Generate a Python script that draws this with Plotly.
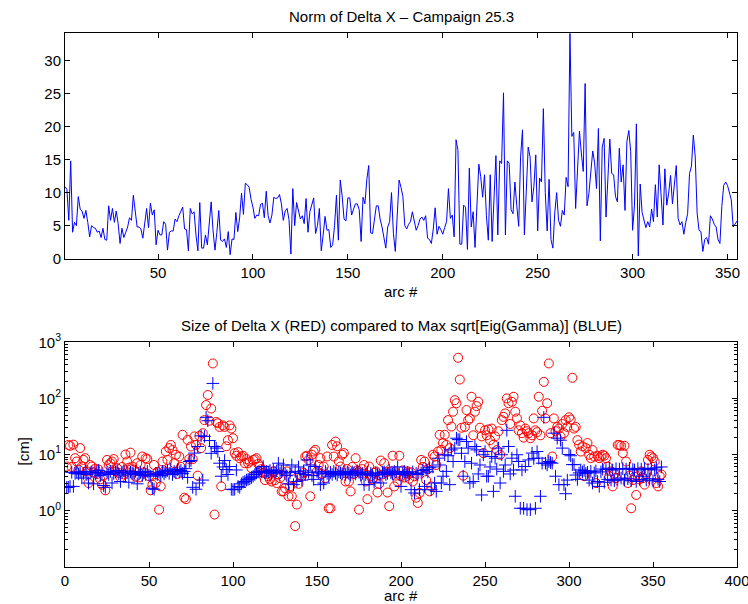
import numpy as np
import plotly.graph_objects as go

# Arc index 1..355
arc = list(range(1, 356))

# Norm of Delta X per arc
norm_dx = [
    10.9, 10.5, 5.8, 14.8, 4.0, 5.5, 5.0, 9.4, 7.5, 7.2,
    6.1, 7.3, 5.5, 3.3, 5.0, 4.7, 4.6, 4.0, 4.2, 3.2,
    4.6, 2.9, 2.8, 8.0, 5.8, 7.6, 5.5, 7.2, 5.3, 2.3,
    4.6, 3.2, 4.0, 4.8, 6.2, 5.8, 9.6, 7.2, 4.8, 4.8,
    4.5, 3.1, 5.0, 7.6, 4.7, 8.4, 6.6, 7.4, 2.1, 4.3,
    3.6, 3.6, 5.6, 5.2, 1.3, 4.0, 4.2, 4.2, 6.0, 5.6,
    6.5, 7.3, 7.8, 4.5, 4.4, 1.2, 7.6, 6.8, 7.1, 3.6,
    1.2, 8.5, 1.6, 1.6, 3.6, 2.1, 5.8, 8.6, 4.2, 1.3,
    4.0, 7.3, 2.8, 2.6, 3.0, 1.7, 4.1, 0.6, 3.0, 2.9,
    7.0, 4.1, 6.2, 9.9, 6.7, 11.4, 11.2, 10.8, 9.0, 7.8,
    6.1, 6.6, 6.5, 8.2, 8.4, 6.2, 10.2, 6.5, 5.4, 6.6,
    9.3, 9.1, 9.2, 9.7, 8.3, 5.8, 7.2, 7.6, 5.9, 0.7,
    10.6, 5.0, 8.5, 7.3, 6.0, 6.5, 5.3, 9.1, 4.0, 7.1,
    8.3, 9.2, 3.8, 5.0, 7.6, 1.2, 3.6, 6.4, 4.3, 4.4,
    1.7, 2.1, 5.0, 9.6, 2.8, 11.9, 9.5, 6.0, 5.7, 9.2,
    9.2, 6.6, 7.5, 8.3, 8.3, 7.4, 2.6, 9.3, 8.3, 12.0,
    14.1, 3.9, 3.8, 6.0, 8.0, 8.0, 6.0, 4.8, 3.2, 1.6,
    4.8, 5.6, 10.0, 3.8, 1.1, 7.0, 11.9, 10.8, 9.4, 5.0,
    4.5, 5.2, 5.6, 7.1, 5.6, 4.3, 5.0, 6.0, 6.3, 5.8,
    6.5, 3.1, 2.9, 2.3, 4.5, 7.7, 3.7, 4.9, 4.4, 3.7,
    4.7, 5.6, 10.6, 6.1, 6.6, 3.3, 18.0, 16.4, 2.2, 2.2,
    8.1, 7.8, 1.4, 13.7, 4.8, 7.1, 1.7, 8.0, 14.3, 12.4,
    9.3, 12.7, 6.5, 2.8, 12.7, 2.6, 9.0, 15.6, 3.6, 14.8,
    14.4, 25.1, 3.6, 14.8, 14.4, 7.4, 6.8, 11.6, 8.0, 4.9,
    15.4, 19.5, 3.6, 10.0, 16.9, 15.4, 8.6, 10.9, 15.7, 4.2,
    12.2, 11.6, 22.7, 10.0, 4.2, 12.0, 2.9, 1.6, 6.9, 10.0,
    5.8, 4.9, 7.3, 6.6, 12.3, 10.9, 34.1, 18.5, 19.1, 7.6,
    13.0, 19.3, 16.0, 13.2, 26.5, 8.0, 9.9, 13.0, 16.3, 14.5,
    10.6, 19.7, 2.7, 16.9, 18.2, 6.3, 12.0, 18.1, 12.9, 12.7,
    9.4, 8.6, 16.7, 11.6, 14.2, 7.3, 17.7, 19.4, 16.2, 4.3,
    8.1, 20.4, 0.4, 11.3, 7.0, 5.6, 4.7, 5.6, 4.8, 7.5,
    5.6, 11.2, 6.3, 14.2, 9.0, 5.1, 13.6, 8.1, 9.9, 12.6,
    8.3, 11.0, 14.1, 6.1, 5.1, 5.6, 3.7, 5.5, 6.8, 12.9,
    14.0, 18.7, 15.4, 6.9, 4.3, 4.1, 1.1, 2.9, 3.2, 2.2,
    6.5, 6.0, 5.2, 4.8, 2.9, 2.3, 7.9, 11.1, 11.6, 11.1,
    10.0, 8.9, 4.8, 5.2, 5.7,
]

# Size of Delta X [cm] (red circles)
size_dx = [
    6.1, 14.8, 14.3, 6.0, 15.0, 8.6, 7.5, 5.4, 13.0, 6.1,
    8.0, 8.6, 5.0, 3.1, 6.5, 6.1, 4.8, 5.6, 4.5, 5.4,
    3.6, 2.9, 4.2, 2.3, 8.0, 6.5, 7.0, 7.5, 8.3, 5.0,
    5.7, 4.7, 3.9, 6.0, 4.4, 10.0, 7.5, 5.8, 10.8, 6.1,
    5.4, 4.0, 7.0, 3.9, 6.5, 9.2, 4.8, 8.6, 8.3, 4.1,
    2.3, 2.9, 6.5, 3.1, 4.9, 1.04, 2.7, 7.5, 5.0, 11.3,
    8.0, 13.0, 14.8, 12.0, 7.0, 9.9, 4.5, 9.2, 6.0, 22.4,
    1.7, 1.6, 18.2, 8.3, 13.9, 8.3, 21.0, 14.8, 4.2, 21.5,
    13.0, 24.0, 41.0, 76.0, 115.0, 40.0, 66.0, 420.0, 0.85, 38.0,
    36.0, 31.0, 2.7, 33.0, 31.0, 14.0, 18.0, 33.0, 29.0, 19.5,
    10.6, 9.5, 11.0, 8.6, 9.2, 9.5, 7.0, 8.3, 7.0, 7.5,
    5.7, 8.0, 8.2, 8.6, 6.8, 6.1, 5.5, 4.7, 3.5, 4.5,
    4.1, 3.6, 3.3, 5.0, 3.5, 3.1, 4.4, 3.8, 2.2, 2.2,
    2.5, 5.0, 1.8, 2.7, 1.8, 3.6, 0.53, 1.28, 3.0, 4.2,
    4.1, 4.7, 9.2, 9.5, 8.0, 1.8, 9.9, 11.3, 12.1, 5.0,
    6.5, 8.6, 4.5, 6.1, 3.8, 9.2, 1.1, 1.1, 14.8, 9.2,
    17.0, 14.0, 7.5, 6.1, 9.9, 10.6, 3.3, 5.5, 3.3, 2.2,
    6.0, 4.5, 8.6, 5.2, 1.04, 4.7, 5.5, 6.5, 3.3, 1.6,
    6.1, 4.1, 3.6, 4.7, 5.0, 2.1, 3.0, 7.8, 4.4, 7.0,
    4.8, 2.1, 1.2, 5.0, 9.5, 2.7, 4.2, 3.3, 9.5, 4.1,
    5.2, 3.9, 4.6, 5.0, 3.7, 4.8, 3.3, 4.1, 1.7, 1.37,
    2.06, 8.0, 6.0, 7.5, 3.5, 5.5, 2.2, 2.7, 9.9, 9.2,
    6.5, 11.3, 22.4, 12.1, 16.0, 22.4, 14.8, 41.0, 13.0, 31.5,
    58.0, 93.0, 82.0, 530.0, 217.0, 30.0, 4.2, 31.0, 62.0, 41.0,
    44.0, 107.0, 22.0, 58.0, 73.0, 87.0, 30.0, 21.0, 10.6, 27.0,
    22.0, 28.0, 18.0, 29.0, 15.0, 21.0, 12.0, 26.0, 9.9, 41.0,
    47.0, 54.0, 100.0, 82.0, 35.0, 87.0, 107.0, 58.0, 44.0, 27.0,
    33.0, 24.0, 20.0, 29.0, 26.0, 24.0, 19.5, 22.0, 44.0, 27.0,
    25.0, 107.0, 22.0, 60.0, 197.0, 44.0, 82.0, 420.0, 24.0, 9.2,
    44.0, 26.0, 31.0, 29.0, 21.0, 35.0, 24.0, 41.0, 31.0, 46.0,
    42.0, 233.0, 29.0, 31.0, 18.0, 15.0, 11.3, 14.0, 4.1, 13.0,
    16.0, 9.9, 8.6, 12.0, 9.2, 3.1, 9.5, 8.6, 9.2, 9.9,
    9.5, 8.6, 6.1, 4.1, 5.0, 2.7, 4.5, 3.8, 14.8, 14.8,
    14.3, 10.6, 14.3, 7.5, 3.1, 4.2, 1.1, 3.5, 4.0, 1.9,
    4.1, 3.6, 5.0, 3.8, 2.9, 4.5, 8.0, 9.9, 9.2, 8.6,
    7.5, 3.1, 2.7, 4.1, 4.4,
]

# Max sqrt of Gamma eigenvalues [cm] (blue crosses)
max_sig = [
    2.6, 2.6, 2.7, 4.8, 2.7, 4.6, 4.9, 4.5, 4.8, 3.8,
    4.6, 5.0, 4.4, 3.1, 4.7, 4.9, 3.0, 4.5, 4.8, 5.2,
    4.2, 4.6, 2.8, 2.6, 4.8, 4.4, 5.0, 3.1, 4.6, 4.9,
    5.2, 4.5, 3.3, 4.8, 5.1, 4.3, 4.7, 3.2, 4.9, 4.6,
    4.4, 5.0, 3.0, 4.5, 4.8, 4.2, 4.7, 4.4, 5.0, 4.3,
    4.1, 2.5, 2.4, 4.6, 4.4, 4.8, 4.2, 5.0, 4.5, 4.9,
    5.2, 4.6, 5.5, 4.4, 5.0, 4.7, 5.4, 4.9, 5.2, 4.6,
    5.0, 5.6, 3.9, 7.5, 7.8, 2.6, 10.6, 2.4, 13.9, 3.1,
    21.5, 3.5, 21.0, 46.0, 40.0, 17.7, 10.5, 185.0, 13.9, 13.0,
    11.3, 7.0, 4.1, 6.0, 7.8, 5.4, 4.4, 6.1, 2.4, 2.36,
    2.4, 5.3, 2.7, 2.6, 3.0, 3.2, 3.3, 3.5, 3.6, 3.7,
    3.9, 4.1, 4.4, 4.7, 4.9, 4.8, 5.0, 6.1, 4.7, 5.0,
    4.9, 5.2, 4.6, 5.3, 4.8, 5.1, 7.0, 4.7, 5.0, 6.5,
    4.5, 4.2, 3.0, 4.8, 6.5, 2.9, 5.0, 3.3, 6.0, 4.6,
    3.5, 5.1, 4.4, 8.0, 4.8, 6.5, 4.2, 3.6, 6.1, 4.9,
    4.7, 2.9, 4.5, 3.1, 5.0, 4.6, 4.1, 4.8, 4.4, 5.0,
    4.6, 4.3, 4.9, 4.7, 4.5, 5.0, 4.4, 4.8, 4.6, 4.3,
    4.9, 4.7, 4.5, 5.1, 4.8, 4.3, 4.6, 2.9, 4.4, 4.9,
    2.9, 4.6, 4.2, 3.2, 4.7, 4.5, 4.3, 3.1, 4.8, 4.9,
    4.4, 4.6, 5.3, 4.7, 4.5, 5.0, 4.8, 6.0, 4.4, 2.7,
    4.6, 5.0, 4.3, 4.8, 4.5, 2.36, 4.9, 2.06, 4.6, 4.4,
    2.36, 4.7, 5.2, 2.7, 5.4, 4.9, 5.8, 2.36, 6.0, 3.1,
    2.2, 8.6, 6.5, 3.1, 4.1, 9.9, 5.0, 9.5, 2.9, 12.1,
    7.5, 13.0, 19.5, 18.4, 18.4, 10.5, 4.1, 7.5, 17.0, 13.0,
    3.1, 7.0, 3.3, 13.9, 12.1, 4.5, 6.5, 1.9, 9.9, 11.3,
    4.1, 4.1, 6.0, 9.2, 2.2, 8.6, 5.5, 13.0, 3.1, 9.9,
    5.0, 6.5, 27.0, 13.9, 4.5, 8.6, 5.3, 1.8, 9.9, 7.5,
    1.1, 5.3, 1.1, 6.1, 1.04, 8.0, 1.04, 10.6, 8.5, 1.1,
    11.3, 8.6, 1.8, 7.0, 46.0, 7.0, 6.5, 7.5, 7.2, 7.0,
    24.0, 4.1, 19.5, 2.9, 18.0, 13.0, 2.9, 2.0, 3.5, 10.0,
    9.5, 6.6, 6.6, 4.3, 3.6, 4.7, 5.3, 4.9, 5.2, 4.6,
    4.8, 3.5, 5.0, 3.1, 4.7, 5.1, 3.3, 2.7, 4.9, 5.5,
    3.2, 5.4, 3.6, 5.7, 3.5, 5.3, 3.4, 5.6, 3.6, 5.5,
    3.8, 5.6, 3.5, 5.5, 3.7, 5.7, 3.4, 5.4, 5.3, 3.3,
    5.6, 3.6, 5.5, 4.1, 5.7, 3.5, 5.4, 3.7, 5.6, 3.4,
    5.3, 5.8, 3.6, 3.3, 6.0,
]

top_xticks = [50, 100, 150, 200, 250, 300, 350]
top_yticks = [0, 5, 10, 15, 20, 25, 30]
bot_xticks = [0, 50, 100, 150, 200, 250, 300, 350, 400]
bot_decades = [0, 1, 2, 3]

FONT = "Liberation Sans, Arial, Helvetica, sans-serif"
FS = 15
W, H = 748, 604

# plot-area boxes in pixels (top, bottom); shared left/right edges
ax_left, ax_right = 65, 737
top_box = (33.3, 258.7)
bot_box = (342.3, 566.7)


def ydom(box):
    t, b = box
    return [1 - b / H, 1 - t / H]


fig = go.Figure()

fig.add_trace(go.Scatter(
    x=arc, y=norm_dx, mode="lines",
    line=dict(color="#0000ff", width=1),
    xaxis="x", yaxis="y", showlegend=False,
))
fig.add_trace(go.Scatter(
    x=arc, y=size_dx, mode="markers",
    marker=dict(symbol="circle-open", size=9, color="#ff0000",
                line=dict(width=1, color="#ff0000")),
    xaxis="x2", yaxis="y2", showlegend=False,
))
fig.add_trace(go.Scatter(
    x=arc, y=max_sig, mode="markers",
    marker=dict(symbol="cross-thin-open", size=9, color="#0000ff",
                line=dict(width=1, color="#0000ff")),
    xaxis="x2", yaxis="y2", showlegend=False,
))

axis_common = dict(
    showline=True, linecolor="black", linewidth=1, mirror="ticks",
    ticks="inside", ticklen=5, tickwidth=1, tickcolor="black",
    showgrid=False, zeroline=False, automargin=False,
    ticklabeloverflow="allow",
    tickfont=dict(family=FONT, size=FS, color="black"),
)

minor_vals = [m * 10 ** d for d in range(-1, 3) for m in range(2, 10)]

fig.update_layout(
    width=W, height=H,
    margin=dict(l=0, r=0, t=0, b=0, autoexpand=False),
    paper_bgcolor="white", plot_bgcolor="white",
    font=dict(family=FONT, size=FS, color="black"),
    xaxis=dict(domain=[ax_left / W, ax_right / W], anchor="y",
               range=[1, 355], tickmode="array", tickvals=top_xticks,
               **axis_common),
    yaxis=dict(domain=ydom(top_box), anchor="x",
               range=[0, max(norm_dx)], tickmode="array", tickvals=top_yticks,
               **axis_common),
    xaxis2=dict(domain=[ax_left / W, ax_right / W], anchor="y2",
                range=[0, 400], tickmode="array", tickvals=bot_xticks,
                **axis_common),
    yaxis2=dict(domain=ydom(bot_box), anchor="x2", type="log",
                range=[-1, 3], tickmode="array",
                tickvals=[10 ** d for d in bot_decades],
                ticktext=["10<sup>%d</sup>" % d for d in bot_decades],
                minor=dict(ticks="inside", ticklen=3, tickcolor="black",
                           tickmode="array", tickvals=minor_vals),
                **axis_common),
)

ann = dict(xref="paper", yref="paper", showarrow=False,
           xanchor="center", yanchor="middle",
           font=dict(family=FONT, size=FS, color="black"))
fig.add_annotation(text="Norm of Delta X \u2013 Campaign 25.3",
                   x=401 / W, y=1 - 16 / H, **ann)
fig.add_annotation(text="arc #", x=401 / W, y=1 - 291 / H, **ann)
fig.add_annotation(
    text="Size of Delta X (RED) compared to Max sqrt[Eig(Gamma)] (BLUE)",
    x=401 / W, y=1 - 325.5 / H, **ann)
fig.add_annotation(text="arc #", x=401 / W, y=1 - 595 / H, **ann)
fig.add_annotation(text="[cm]", x=22.5 / W, y=1 - 452 / H, textangle=-90,
                   **ann)

fig.write_html("out.html")
